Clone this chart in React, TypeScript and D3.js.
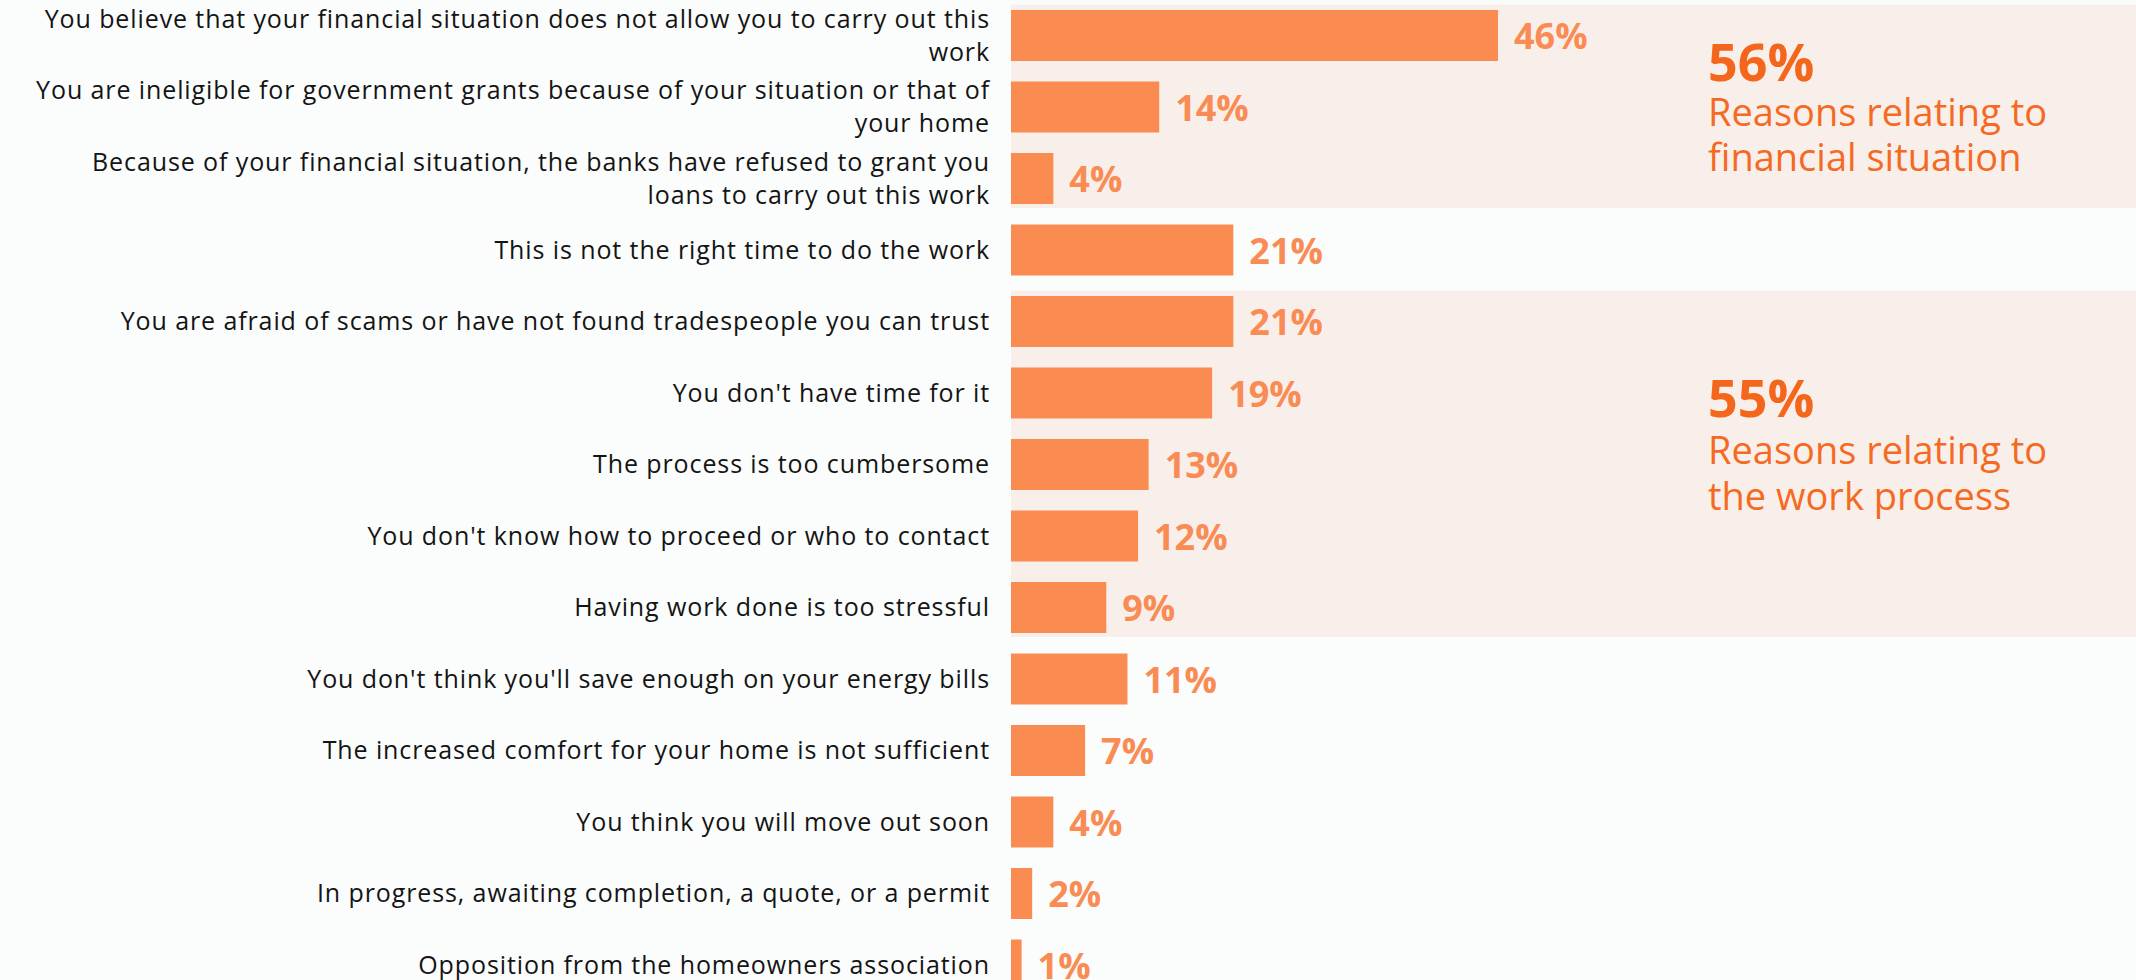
import React from "react";
import * as d3 from "d3";

const categories: string[] = [
  "You believe that your financial situation does not allow you to carry out this\nwork",
  "You are ineligible for government grants because of your situation or that of\nyour home",
  "Because of your financial situation, the banks have refused to grant you\nloans to carry out this work",
  "This is not the right time to do the work",
  "You are afraid of scams or have not found tradespeople you can trust",
  "You don't have time for it",
  "The process is too cumbersome",
  "You don't know how to proceed or who to contact",
  "Having work done is too stressful",
  "You don't think you'll save enough on your energy bills",
  "The increased comfort for your home is not sufficient",
  "You think you will move out soon",
  "In progress, awaiting completion, a quote, or a permit",
  "Opposition from the homeowners association",
];

const values: number[] = [46, 14, 4, 21, 21, 19, 13, 12, 9, 11, 7, 4, 2, 1];

const groupStart: number[] = [0, 4];
const groupEnd: number[] = [2, 8];
const groupTotals: string[] = ["56%", "55%"];
const groupLines: string[][] = [
  ["Reasons relating to", "financial situation"],
  ["Reasons relating to", "the work process"],
];

const W = 2136;
const H = 980;
const FONT = "'Open Sans', 'DejaVu Sans', sans-serif";

export default function App() {
  const n = categories.length;
  const step = 71.5;
  const pi = 20.5 / 71.5;
  const po = pi / 2;
  const r0 = 10 - po * step;
  const y = d3
    .scaleBand<string>()
    .domain(categories)
    .range([r0, r0 + n * step])
    .paddingInner(pi)
    .paddingOuter(po);
  const bw = y.bandwidth();
  const x = d3.scaleLinear().domain([0, 46]).range([1011, 1498]);

  const labelX = 990;
  const lineH = 33;

  // annotation baseline anchors (layout)
  const annoBase = [
    (y(categories[1]) as number) - 0.5,
    (y(categories[5]) as number) + bw - 1.5,
  ];

  return (
    <svg
      width={W}
      height={H}
      style={{ position: "absolute", left: 0, top: 0, display: "block" }}
      fontFamily={FONT}
    >
      <rect x={0} y={0} width={W} height={H} fill="#FBFCFC" />
      {groupStart.map((s, i) => {
        const top = (y(categories[s]) as number) - 5.5;
        const bot = (y(categories[groupEnd[i]]) as number) + bw + 4;
        return (
          <rect
            key={"band" + i}
            x={x(0)}
            y={top}
            width={W - x(0)}
            height={bot - top}
            fill="#F9EFEA"
          />
        );
      })}
      {categories.map((c, i) => {
        const yc = (y(c) as number) + bw / 2;
        const lines = c.split("\n");
        return (
          <g key={"row" + i}>
            <rect
              x={x(0)}
              y={y(c) as number}
              width={x(values[i]) - x(0)}
              height={bw}
              fill="#FA8B51"
            />
            <text
              x={x(values[i]) + 16}
              y={yc + 13.5}
              fontSize={36}
              fontWeight={700}
              fill="#F98C55"
            >
              {values[i] + "%"}
            </text>
            {lines.map((l, j) => (
              <text
                key={j}
                x={labelX}
                y={yc + 8.5 + (j - (lines.length - 1) / 2) * lineH}
                textAnchor="end"
                fontSize={25}
                letterSpacing={0.9}
                fill="#141414"
              >
                {l}
              </text>
            ))}
          </g>
        );
      })}
      {groupTotals.map((t, i) => (
        <g key={"anno" + i}>
          <text
            x={1708}
            y={annoBase[i]}
            fontSize={52}
            fontWeight={700}
            fill="#F4661B"
          >
            {t}
          </text>
          {groupLines[i].map((l, j) => (
            <text
              key={j}
              x={1708}
              y={annoBase[i] + 46.5 * (j + 1) - (i === 0 ? 1.5 * (j + 1) : 0)}
              fontSize={38}
              fill="#F56A22"
            >
              {l}
            </text>
          ))}
        </g>
      ))}
    </svg>
  );
}
